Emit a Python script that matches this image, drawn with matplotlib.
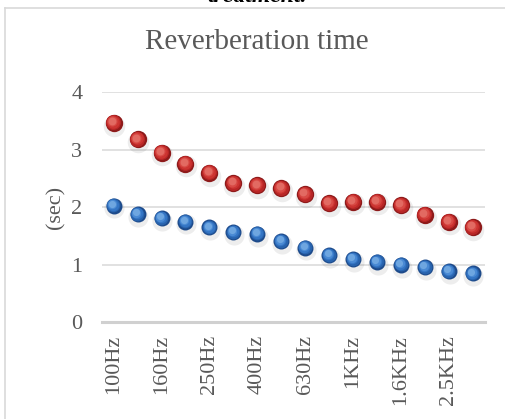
import numpy as np
import matplotlib.pyplot as plt
from matplotlib.lines import Line2D
from matplotlib.transforms import offset_copy

plt.rcParams['font.family'] = ['Liberation Serif', 'DejaVu Serif']

bands = ['100Hz', '125Hz', '160Hz', '200Hz', '250Hz', '315Hz', '400Hz', '500Hz',
         '630Hz', '800Hz', '1KHz', '1.25KHz', '1.6KHz', '2KHz', '2.5KHz', '3.15KHz']
before = [3.47, 3.18, 2.95, 2.76, 2.60, 2.42, 2.38, 2.33,
          2.23, 2.07, 2.10, 2.10, 2.04, 1.87, 1.75, 1.65]
after = [2.03, 1.88, 1.81, 1.75, 1.65, 1.57, 1.54, 1.41,
         1.30, 1.17, 1.10, 1.05, 1.00, 0.96, 0.89, 0.85]

GRAY = '#595959'

fig = plt.figure(figsize=(5.06, 4.19), dpi=100)
ax = fig.add_axes([0.201, 0.2308, 0.757, 0.549])

x = np.arange(len(bands))


def sphere(ax, xs, ys, size, shades):
    # fake 3d balls: soft shadow, dark rim, body, then highlights shifted up-left
    fig = ax.figure
    sh = offset_copy(ax.transData, fig=fig, x=0.5, y=-2.0, units='points')
    ax.scatter(xs, ys, s=(size + 3) ** 2, color='#000000', alpha=0.07,
               linewidths=0, transform=sh, zorder=3, clip_on=False)
    n = len(shades)
    for i, c in enumerate(shades):
        f = 1 - 0.55 * i / (n - 1)
        tr = offset_copy(ax.transData, fig=fig, x=-0.18 * size * (1 - f),
                         y=0.2 * size * (1 - f), units='points')
        ax.scatter(xs, ys, s=(size * f) ** 2, color=c, linewidths=0,
                   transform=tr, zorder=4 + i, clip_on=False)


sphere(ax, x, before, 12.5, ['#8e1a1a', '#b82626', '#cc3431', '#d84a45', '#e26a62'])
sphere(ax, x, after, 11.5, ['#1d4a8a', '#2863ad', '#3475c4', '#4a8ad4', '#6ea6e0'])

ax.set_xlim(-0.5, len(bands) - 0.5)
ax.set_ylim(0, 4)
ax.set_yticks([0, 1, 2, 3, 4])
ax.grid(axis='y', color='#d9d9d9', linewidth=1.1)
ax.set_axisbelow(True)
for s in ['top', 'right', 'left']:
    ax.spines[s].set_visible(False)
ax.spines['bottom'].set_color('#d0d0d0')
ax.spines['bottom'].set_linewidth(2.2)

ax.set_xticks(x[::2])
ax.set_xticklabels(bands[::2], rotation=90, fontsize=16, color=GRAY)
ax.tick_params(axis='x', length=0, pad=9)
ax.tick_params(axis='y', length=0, pad=14, labelsize=16, labelcolor=GRAY)
ax.set_ylabel('(sec)', fontsize=16, color=GRAY, labelpad=4)

fig.text(0.508, 0.90, 'Reverberation time', ha='center', va='center',
         fontsize=21, color=GRAY)
# caption line above the chart, mostly outside the canvas
fig.text(0.508, 0.996, 'treatment.', ha='center', va='baseline',
         fontsize=17, style='italic', weight='bold', color='black')

# chart area border
W, H = 506, 419
fig.add_artist(Line2D([5.5 / W, 5.5 / W], [0, 1 - 8 / H], color='#d9d9d9',
                      linewidth=1.2, transform=fig.transFigure))
fig.add_artist(Line2D([5.5 / W, 1], [1 - 8 / H, 1 - 8 / H], color='#d9d9d9',
                      linewidth=1.2, transform=fig.transFigure))

fig.savefig('out.png', dpi=100)
